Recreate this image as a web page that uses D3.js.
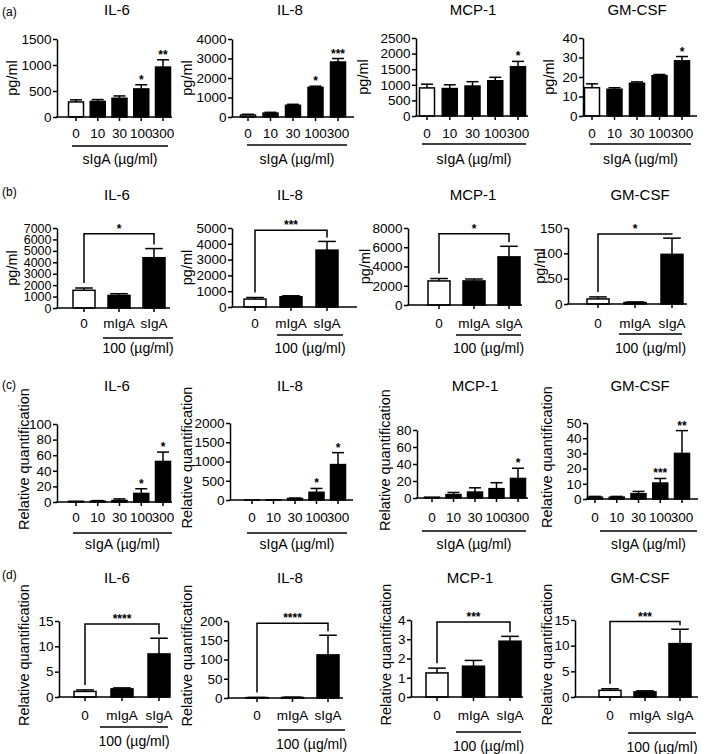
<!DOCTYPE html>
<html>
<head>
<meta charset="utf-8">
<script src="https://cdn.jsdelivr.net/npm/d3@7"></script>
<style>
body { margin: 0; background: #fff; }
svg text { font-family: "Liberation Sans", Arial, sans-serif; fill: #000; }
</style>
</head>
<body>
<div id="fig"></div>
<script>
// categories
var doseLabels = ["0", "10", "30", "100", "300"];
var treatLabels = ["0", "mIgA", "sIgA"];
var cytokines = ["IL-6", "IL-8", "MCP-1", "GM-CSF"];
var rowLetters = ["(a)", "(b)", "(c)", "(d)"];

// (a) ELISA, sIgA dose series (pg/ml): mean, SEM, significance
var aIL6 = [290, 300, 360, 540, 960];
var aIL6Sem = [40, 35, 45, 80, 140];
var aIL8 = [100, 200, 600, 1520, 2820];
var aIL8Sem = [40, 40, 50, 60, 180];
var aMCP1 = [900, 880, 960, 1130, 1580];
var aMCP1Sem = [120, 120, 140, 110, 170];
var aGMCSF = [14.5, 13.7, 16.8, 20.7, 28.3];
var aGMCSFSem = [2, 0.8, 0.7, 0.6, 2.2];
var aStars = [["", "", "", "*", "**"], ["", "", "", "*", "***"], ["", "", "", "", "*"], ["", "", "", "", "*"]];
var aYMax = [1500, 4000, 2500, 40];
var aYStep = [500, 1000, 500, 10];

// (b) ELISA, mIgA vs sIgA at 100 ug/ml (pg/ml)
var bIL6 = [1550, 1100, 4400];
var bIL6Sem = [200, 150, 800];
var bIL8 = [500, 650, 3600];
var bIL8Sem = [100, 60, 550];
var bMCP1 = [2500, 2500, 5000];
var bMCP1Sem = [250, 200, 1100];
var bGMCSF = [10, 3, 98];
var bGMCSFSem = [4, 1, 32];
var bBracket = [6500, 4850, 7400, 138];
var bBracketStars = ["*", "***", "*", "*"];
var bYMax = [7000, 5000, 8000, 150];
var bYStep = [1000, 1000, 2000, 50];

// (c) mRNA, sIgA dose series (relative quantification)
var cIL6 = [1, 1, 2, 11, 52];
var cIL6Sem = [0, 0.8, 2, 6, 12];
var cIL8 = [1, 5, 40, 200, 920];
var cIL8Sem = [0, 3, 10, 100, 310];
var cMCP1 = [1, 4, 7, 11, 23];
var cMCP1Sem = [0, 2.5, 5, 7, 12];
var cGMCSF = [1.2, 1.2, 3.5, 10.5, 30];
var cGMCSFSem = [0.5, 0.5, 1.5, 3, 15];
var cStars = [["", "", "", "*", "*"], ["", "", "", "*", "*"], ["", "", "", "", "*"], ["", "", "", "***", "**"]];
var cYMax = [100, 2000, 80, 50];
var cYStep = [20, 500, 20, 10];

// (d) mRNA, mIgA vs sIgA at 100 ug/ml
var dIL6 = [1.1, 1.6, 8.5];
var dIL6Sem = [0.3, 0.2, 3.1];
var dIL8 = [1, 1.5, 112];
var dIL8Sem = [0.5, 0.8, 51];
var dMCP1 = [1.25, 1.6, 2.9];
var dMCP1Sem = [0.25, 0.3, 0.25];
var dGMCSF = [1.3, 1.0, 10.4];
var dGMCSFSem = [0.3, 0.2, 2.8];
var dBracket = [14.4, 194, 3.9, 14.7];
var dBracketStars = ["****", "****", "***", "***"];
var dYMax = [15, 200, 4, 15];
var dYStep = [5, 50, 1, 5];

var width = 709, height = 754;

// rows: text positions shared by a row
var rows = [
  { letterY: 16, titleY: 15, titleX: [117, 290, 473, 637], yLabel: "pg/ml", ylx: [12, 187, 363, 549], tickY: 138, unitY: 164, unit: "sIgA (\u00b5g/ml)", cats: doseLabels, barW: 15 },
  { letterY: 196, titleY: 200, titleX: [117, 290, 473, 640], yLabel: "pg/ml", ylx: [12, 187, 365, 540], tickY: 328, unitY: 353, unit: "100 (\u00b5g/ml)", cats: treatLabels, barW: 22 },
  { letterY: 389, titleY: 391, titleX: [117, 290, 475, 640], yLabel: "Relative quantification", ylx: [24, 187, 385, 547], tickY: 522, unitY: 549, unit: "sIgA (\u00b5g/ml)", cats: doseLabels, barW: 15 },
  { letterY: 579, titleY: 583, titleX: [117, 290, 470, 640], yLabel: "Relative quantification", ylx: [24, 187, 386, 547], tickY: 720, unitY: 746, unit: "100 (\u00b5g/ml)", cats: treatLabels, barW: 22 }
];

// per panel frame: axis x, axis end, plot top/bottom, first/last bar centre, underline
var frames = [
  [ { x0: 57, x1: 172, yT: 39, yB: 117, c0: 76, c1: 163, uL: 72, uR: 168, uY: 146 },
    { x0: 232, x1: 354, yT: 39, yB: 117, c0: 248, c1: 338, uL: 247, uR: 347, uY: 145 },
    { x0: 416, x1: 528, yT: 38, yB: 116, c0: 427, c1: 518, uL: 422, uR: 526, uY: 144 },
    { x0: 583, x1: 697, yT: 38, yB: 116, c0: 592, c1: 682, uL: 590, uR: 691, uY: 144 } ],
  [ { x0: 57, x1: 170, yT: 228, yB: 308, c0: 84, c1: 154, uL: 103, uR: 173, uY: 338 },
    { x0: 232, x1: 357, yT: 228, yB: 307, c0: 255, c1: 327, uL: 277, uR: 343, uY: 335 },
    { x0: 408, x1: 522, yT: 228, yB: 305, c0: 439, c1: 509, uL: 456, uR: 521, uY: 335 },
    { x0: 568, x1: 687, yT: 228, yB: 304, c0: 598, c1: 672, uL: 619, uR: 682, uY: 334 } ],
  [ { x0: 57, x1: 172, yT: 424, yB: 502, c0: 76, c1: 163, uL: 73, uR: 172, uY: 533 },
    { x0: 230, x1: 353, yT: 423, yB: 500, c0: 252, c1: 338, uL: 247, uR: 347, uY: 533 },
    { x0: 417, x1: 528, yT: 430, yB: 498, c0: 432, c1: 518, uL: 422, uR: 526, uY: 531 },
    { x0: 587, x1: 698, yT: 423, yB: 499, c0: 595, c1: 682, uL: 600, uR: 697, uY: 531 } ],
  [ { x0: 59, x1: 170, yT: 621, yB: 697, c0: 85, c1: 159, uL: 100, uR: 168, uY: 727 },
    { x0: 228, x1: 343, yT: 621, yB: 698, c0: 257, c1: 328, uL: 278, uR: 345, uY: 730 },
    { x0: 411, x1: 523, yT: 620, yB: 697, c0: 437, c1: 510, uL: 456, uR: 521, uY: 732 },
    { x0: 575, x1: 698, yT: 620, yB: 697, c0: 610, c1: 680, uL: 628, uR: 696, uY: 733 } ]
];

var means = [[aIL6, aIL8, aMCP1, aGMCSF], [bIL6, bIL8, bMCP1, bGMCSF], [cIL6, cIL8, cMCP1, cGMCSF], [dIL6, dIL8, dMCP1, dGMCSF]];
var sems = [[aIL6Sem, aIL8Sem, aMCP1Sem, aGMCSFSem], [bIL6Sem, bIL8Sem, bMCP1Sem, bGMCSFSem], [cIL6Sem, cIL8Sem, cMCP1Sem, cGMCSFSem], [dIL6Sem, dIL8Sem, dMCP1Sem, dGMCSFSem]];
var yMaxes = [aYMax, bYMax, cYMax, dYMax];
var ySteps = [aYStep, bYStep, cYStep, dYStep];

var svg = d3.select("#fig").append("svg")
    .attr("width", width)
    .attr("height", height);

rows.forEach(function(row, r) {
  svg.append("text")
      .attr("x", 2).attr("y", row.letterY)
      .style("font-size", "12px")
      .text(rowLetters[r]);

  cytokines.forEach(function(name, c) {
    var f = frames[r][c];
    var vals = means[r][c], errs = sems[r][c];
    var yMax = yMaxes[r][c], yStep = ySteps[r][c];
    var bars = row.cats.map(function(cat, i) {
      var stars = "";
      if (r === 0) stars = aStars[c][i];
      if (r === 2) stars = cStars[c][i];
      return { cat: cat, v: vals[i], e: errs[i], stars: stars, i: i };
    });

    var y = d3.scaleLinear().domain([0, yMax]).range([f.yB, f.yT]);
    var x = d3.scalePoint().domain(row.cats).range([f.c0, f.c1]);
    var g = svg.append("g");
    var bw = row.barW;
    // the tight 7000-scale axis gets a slightly smaller font, like the original
    var tickFont = (f.yB - f.yT) / ((yMax / yStep)) < 13 ? "12.5px" : "13.5px";

    // title
    g.append("text")
        .attr("x", row.titleX[c]).attr("y", row.titleY)
        .attr("text-anchor", "middle")
        .style("font-size", "15px")
        .text(name);

    // y label
    g.append("text")
        .attr("transform", "translate(" + (row.ylx[c] + 5) + "," + ((f.yT + f.yB) / 2 - (r > 1 ? 4 : 0)) + ") rotate(-90)")
        .attr("text-anchor", "middle")
        .style("font-size", "14.5px")
        .text(row.yLabel);

    // bars
    g.selectAll(".bar")
        .data(bars)
        .enter().append("rect")
        .attr("x", function(d) { return x(d.cat) - bw / 2; })
        .attr("y", function(d) { return y(d.v); })
        .attr("width", bw)
        .attr("height", function(d) { return Math.max(0, f.yB - y(d.v)); })
        .attr("fill", function(d) { return d.i === 0 ? "#fff" : "#000"; })
        .attr("stroke", "#000")
        .attr("stroke-width", 1.5);

    // error bars (upper only)
    var eb = g.selectAll(".err")
        .data(bars.filter(function(d) { return d.e > 0; }))
        .enter().append("g");
    eb.append("line")
        .attr("x1", function(d) { return x(d.cat); })
        .attr("x2", function(d) { return x(d.cat); })
        .attr("y1", function(d) { return y(d.v); })
        .attr("y2", function(d) { return y(d.v + d.e); })
        .attr("stroke", "#000").attr("stroke-width", 1.5);
    eb.append("line")
        .attr("x1", function(d) { return x(d.cat) - bw * 0.4; })
        .attr("x2", function(d) { return x(d.cat) + bw * 0.4; })
        .attr("y1", function(d) { return y(d.v + d.e); })
        .attr("y2", function(d) { return y(d.v + d.e); })
        .attr("stroke", "#000").attr("stroke-width", 1.5);

    // stars over single bars
    g.selectAll(".star")
        .data(bars.filter(function(d) { return d.stars; }))
        .enter().append("text")
        .attr("x", function(d) { return x(d.cat); })
        .attr("y", function(d) { return y(d.v + d.e) - 1; })
        .attr("text-anchor", "middle")
        .style("font-size", "12px")
        .style("font-weight", "bold")
        .text(function(d) { return d.stars; });

    // comparison bracket 0 vs sIgA
    if (r === 1 || r === 3) {
      var lev = r === 1 ? bBracket[c] : dBracket[c];
      var st = r === 1 ? bBracketStars[c] : dBracketStars[c];
      var first = bars[0], last = bars[bars.length - 1];
      var by = y(lev);
      g.append("path")
          .attr("d", "M" + x(first.cat) + "," + (y(first.v + first.e) - 5) +
                     "V" + by + "H" + x(last.cat) + "V" + (y(last.v + last.e) - 4))
          .attr("fill", "none")
          .attr("stroke", "#000").attr("stroke-width", 1.5);
      g.append("text")
          .attr("x", (x(first.cat) + x(last.cat)) / 2)
          .attr("y", by - 1)
          .attr("text-anchor", "middle")
          .style("font-size", "12px")
          .style("font-weight", "bold")
          .text(st);
    }

    // y axis
    var yAxis = d3.axisLeft(y)
        .tickValues(d3.range(0, yMax + yStep / 2, yStep))
        .tickFormat(d3.format("d"))
        .tickSize(4)
        .tickSizeOuter(0)
        .tickPadding(1.5);
    var ya = g.append("g")
        .attr("transform", "translate(" + f.x0 + ",0)")
        .call(yAxis);
    ya.select(".domain").attr("stroke-width", 1.5);
    ya.selectAll(".tick line").attr("stroke-width", 1.5);
    ya.selectAll("text")
        .style("font-size", tickFont)
        .attr("font-family", null);

    // x axis line, category ticks and labels
    g.append("line")
        .attr("x1", f.x0 - 0.75).attr("x2", f.x1)
        .attr("y1", f.yB).attr("y2", f.yB)
        .attr("stroke", "#000").attr("stroke-width", 1.5);
    g.selectAll(".xt")
        .data(row.cats)
        .enter().append("line")
        .attr("x1", function(d) { return x(d); })
        .attr("x2", function(d) { return x(d); })
        .attr("y1", f.yB).attr("y2", f.yB + 4)
        .attr("stroke", "#000").attr("stroke-width", 1.5);
    g.selectAll(".xl")
        .data(row.cats)
        .enter().append("text")
        .attr("x", function(d) { return x(d); })
        .attr("y", row.tickY)
        .attr("text-anchor", "middle")
        .style("font-size", "13.5px")
        .text(function(d) { return d; });

    // underline and unit
    g.append("line")
        .attr("x1", f.uL).attr("x2", f.uR)
        .attr("y1", f.uY).attr("y2", f.uY)
        .attr("stroke", "#000").attr("stroke-width", 1.5);
    g.append("text")
        .attr("x", (f.uL + f.uR) / 2)
        .attr("y", row.unitY + (r === 3 ? f.uY - 727 : 0))
        .attr("text-anchor", "middle")
        .style("font-size", "14px")
        .text(row.unit);
  });
});
</script>
</body>
</html>
